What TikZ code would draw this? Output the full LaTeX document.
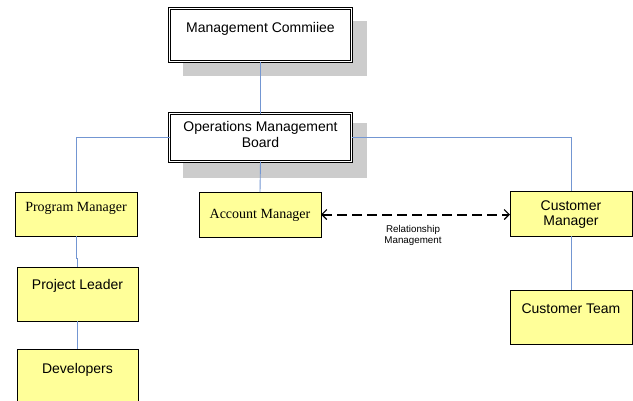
\documentclass[tikz,border=0pt]{standalone}
\usepackage{fontspec}
\setmainfont{Liberation Sans}
\newfontfamily\timesfont{Liberation Serif}
\usetikzlibrary{arrows.meta}
\definecolor{linkblue}{RGB}{115,150,210}
\definecolor{boxyellow}{RGB}{255,255,153}
\definecolor{shadowgray}{RGB}{204,204,204}
\begin{document}
\begin{tikzpicture}[x=1pt,y=-1pt,
  headbox/.style={draw=black, double=white, double distance=1.6pt, line width=0.7pt, fill=white, inner sep=0pt, outer sep=0pt},
  rolebox/.style={draw=black, line width=0.8pt, fill=boxyellow, inner sep=0pt, outer sep=0pt},
  sanslabel/.style={font=\fontsize{14}{16}\selectfont, inner sep=0pt, anchor=base},
  seriflabel/.style={font=\timesfont\fontsize{14}{16}\selectfont, inner sep=0pt, anchor=base},
  smalllabel/.style={font=\fontsize{9.8}{11}\selectfont, inner sep=0pt, anchor=base},
  link/.style={draw=linkblue, line width=0.9pt},
  relation/.style={draw=black, line width=2pt, dash pattern=on 10pt off 5pt,
    {Straight Barb[length=5pt,width=10pt,line width=1.1pt]}-{Straight Barb[length=5pt,width=10pt,line width=1.1pt]}}
]
\useasboundingbox (0,0) rectangle (633,400);
% shadows
\fill[shadowgray] (183,21) rectangle (367,76);
\fill[shadowgray] (183,123) rectangle (367,178);
% boxes
\node[headbox, minimum width=182pt, minimum height=53pt] (mc) at (260.5,35) {};
\node[headbox, minimum width=182pt, minimum height=48pt] (ops) at (260.5,137.5) {};
\node[rolebox, minimum width=122pt, minimum height=44pt] (pm) at (76,214) {};
\node[rolebox, minimum width=122pt, minimum height=45pt] (am) at (260,214.5) {};
\node[rolebox, minimum width=122pt, minimum height=45pt] (cm) at (571,213.5) {};
\node[rolebox, minimum width=122pt, minimum height=54pt] (ct) at (571,317) {};
\node[rolebox, minimum width=121pt, minimum height=54pt] (pl) at (77.5,294) {};
\node[rolebox, minimum width=121pt, minimum height=56pt] (dev) at (77.5,377) {};
% texts
\node[sanslabel] (mctext) at (260.5,32) {Management Commiiee};
\node[sanslabel] (opstexta) at (260.5,131) {Operations Management};
\node[sanslabel] (opstextb) at (260.5,147) {Board};
\node[seriflabel] (pmtext) at (76,211) {Program Manager};
\node[seriflabel] (amtext) at (260,218) {Account Manager};
\node[sanslabel] (cmtexta) at (571,210) {Customer};
\node[sanslabel] (cmtextb) at (571,225) {Manager};
\node[sanslabel] (cttext) at (571,313) {Customer Team};
\node[sanslabel] (pltext) at (77.5,289) {Project Leader};
\node[sanslabel] (devtext) at (77.5,373) {Developers};
\node[smalllabel] (reltexta) at (413,232) {Relationship};
\node[smalllabel] (reltextb) at (413,243) {Management};
% connectors
\draw[link] (mc.south) -- (ops.north);
\draw[link] (ops.west) -| (pm.north);
\draw[link] (ops.south) -- (am.north);
\draw[link] (ops.east) -| (cm.north);
\draw[link] (pm.south) -- ++(0,22) -| (pl.north);
\draw[link] (pl.south) -- (dev.north);
\draw[link] (cm.south) -- (ct.north);
\draw[relation] (am.east) -- (am.east -| cm.west);
\end{tikzpicture}
\end{document}
